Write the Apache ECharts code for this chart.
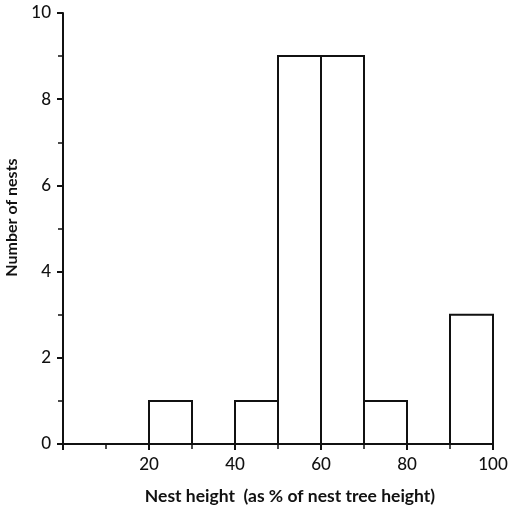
<!DOCTYPE html>
<html><head><meta charset="utf-8">
<script src="https://cdn.jsdelivr.net/npm/echarts@6/dist/echarts.min.js"></script>
<style>html,body{margin:0;padding:0;background:#fff}#c{width:509px;height:506px}</style>
</head><body><div id="c"></div>
<script>
const binStart = [0, 10, 20, 30, 40, 50, 60, 70, 80, 90];
const binEnd   = [10, 20, 30, 40, 50, 60, 70, 80, 90, 100];
const counts   = [0, 0, 1, 0, 1, 9, 9, 1, 0, 3];
const xTicks = [0, 20, 40, 60, 80, 100];
const yTicks = [0, 2, 4, 6, 8, 10];

const data = binStart.map((s, i) => [s, binEnd[i], counts[i]]);
const font = 'Lato';
const chart = echarts.init(document.getElementById('c'));
chart.setOption({
  animation: false,
  grid: {left: 63, right: 16, top: 13, bottom: 62, containLabel: false, outerBoundsMode: 'none'},
  xAxis: {
    type: 'value', min: 0, max: 100, interval: 20,
    name: 'Nest height  (as % of nest tree height)',
    nameLocation: 'middle', nameGap: 43,
    nameTextStyle: {fontFamily: font, fontSize: 17.5, fontWeight: 'bold', color: '#111', padding: [0, 0, 0, 24]},
    axisLine: {lineStyle: {color: '#111', width: 2}},
    axisTick: {show: true, inside: false, length: 6, lineStyle: {color: '#111', width: 2}},
    minorTick: {show: true, splitNumber: 2, length: 5, lineStyle: {color: '#111', width: 1.5}},
    axisLabel: {fontFamily: font, fontSize: 17, fontWeight: 500, color: '#111', margin: 12,
      formatter: v => (v === 0 ? '' : (xTicks.includes(v) ? String(v) : ''))},
    splitLine: {show: false}
  },
  yAxis: {
    type: 'value', min: 0, max: 10, interval: 2,
    name: 'Number of nests',
    nameLocation: 'middle', nameGap: 43,
    nameTextStyle: {fontFamily: font, fontSize: 16, fontWeight: 'bold', color: '#111', padding: [0, 0, 0, 22]},
    axisLine: {show: true, lineStyle: {color: '#111', width: 2}},
    axisTick: {show: true, inside: false, length: 6, lineStyle: {color: '#111', width: 2}},
    minorTick: {show: true, splitNumber: 2, length: 5, lineStyle: {color: '#111', width: 1.5}},
    axisLabel: {fontFamily: font, fontSize: 17, fontWeight: 500, color: '#111', margin: 12,
      formatter: v => (yTicks.includes(v) ? String(v) : '')},
    splitLine: {show: false}
  },
  series: [{
    type: 'custom',
    data: data,
    encode: {x: [0, 1], y: 2},
    renderItem: function (params, api) {
      const v = api.value(2);
      if (!v) return null;
      const p0 = api.coord([api.value(0), 0]);
      const p1 = api.coord([api.value(1), v]);
      return {
        type: 'rect',
        shape: {x: p0[0], y: p1[1], width: p1[0] - p0[0], height: p0[1] - p1[1]},
        style: {fill: '#fff', stroke: '#111', lineWidth: 2}
      };
    }
  }]
});
</script></body></html>
